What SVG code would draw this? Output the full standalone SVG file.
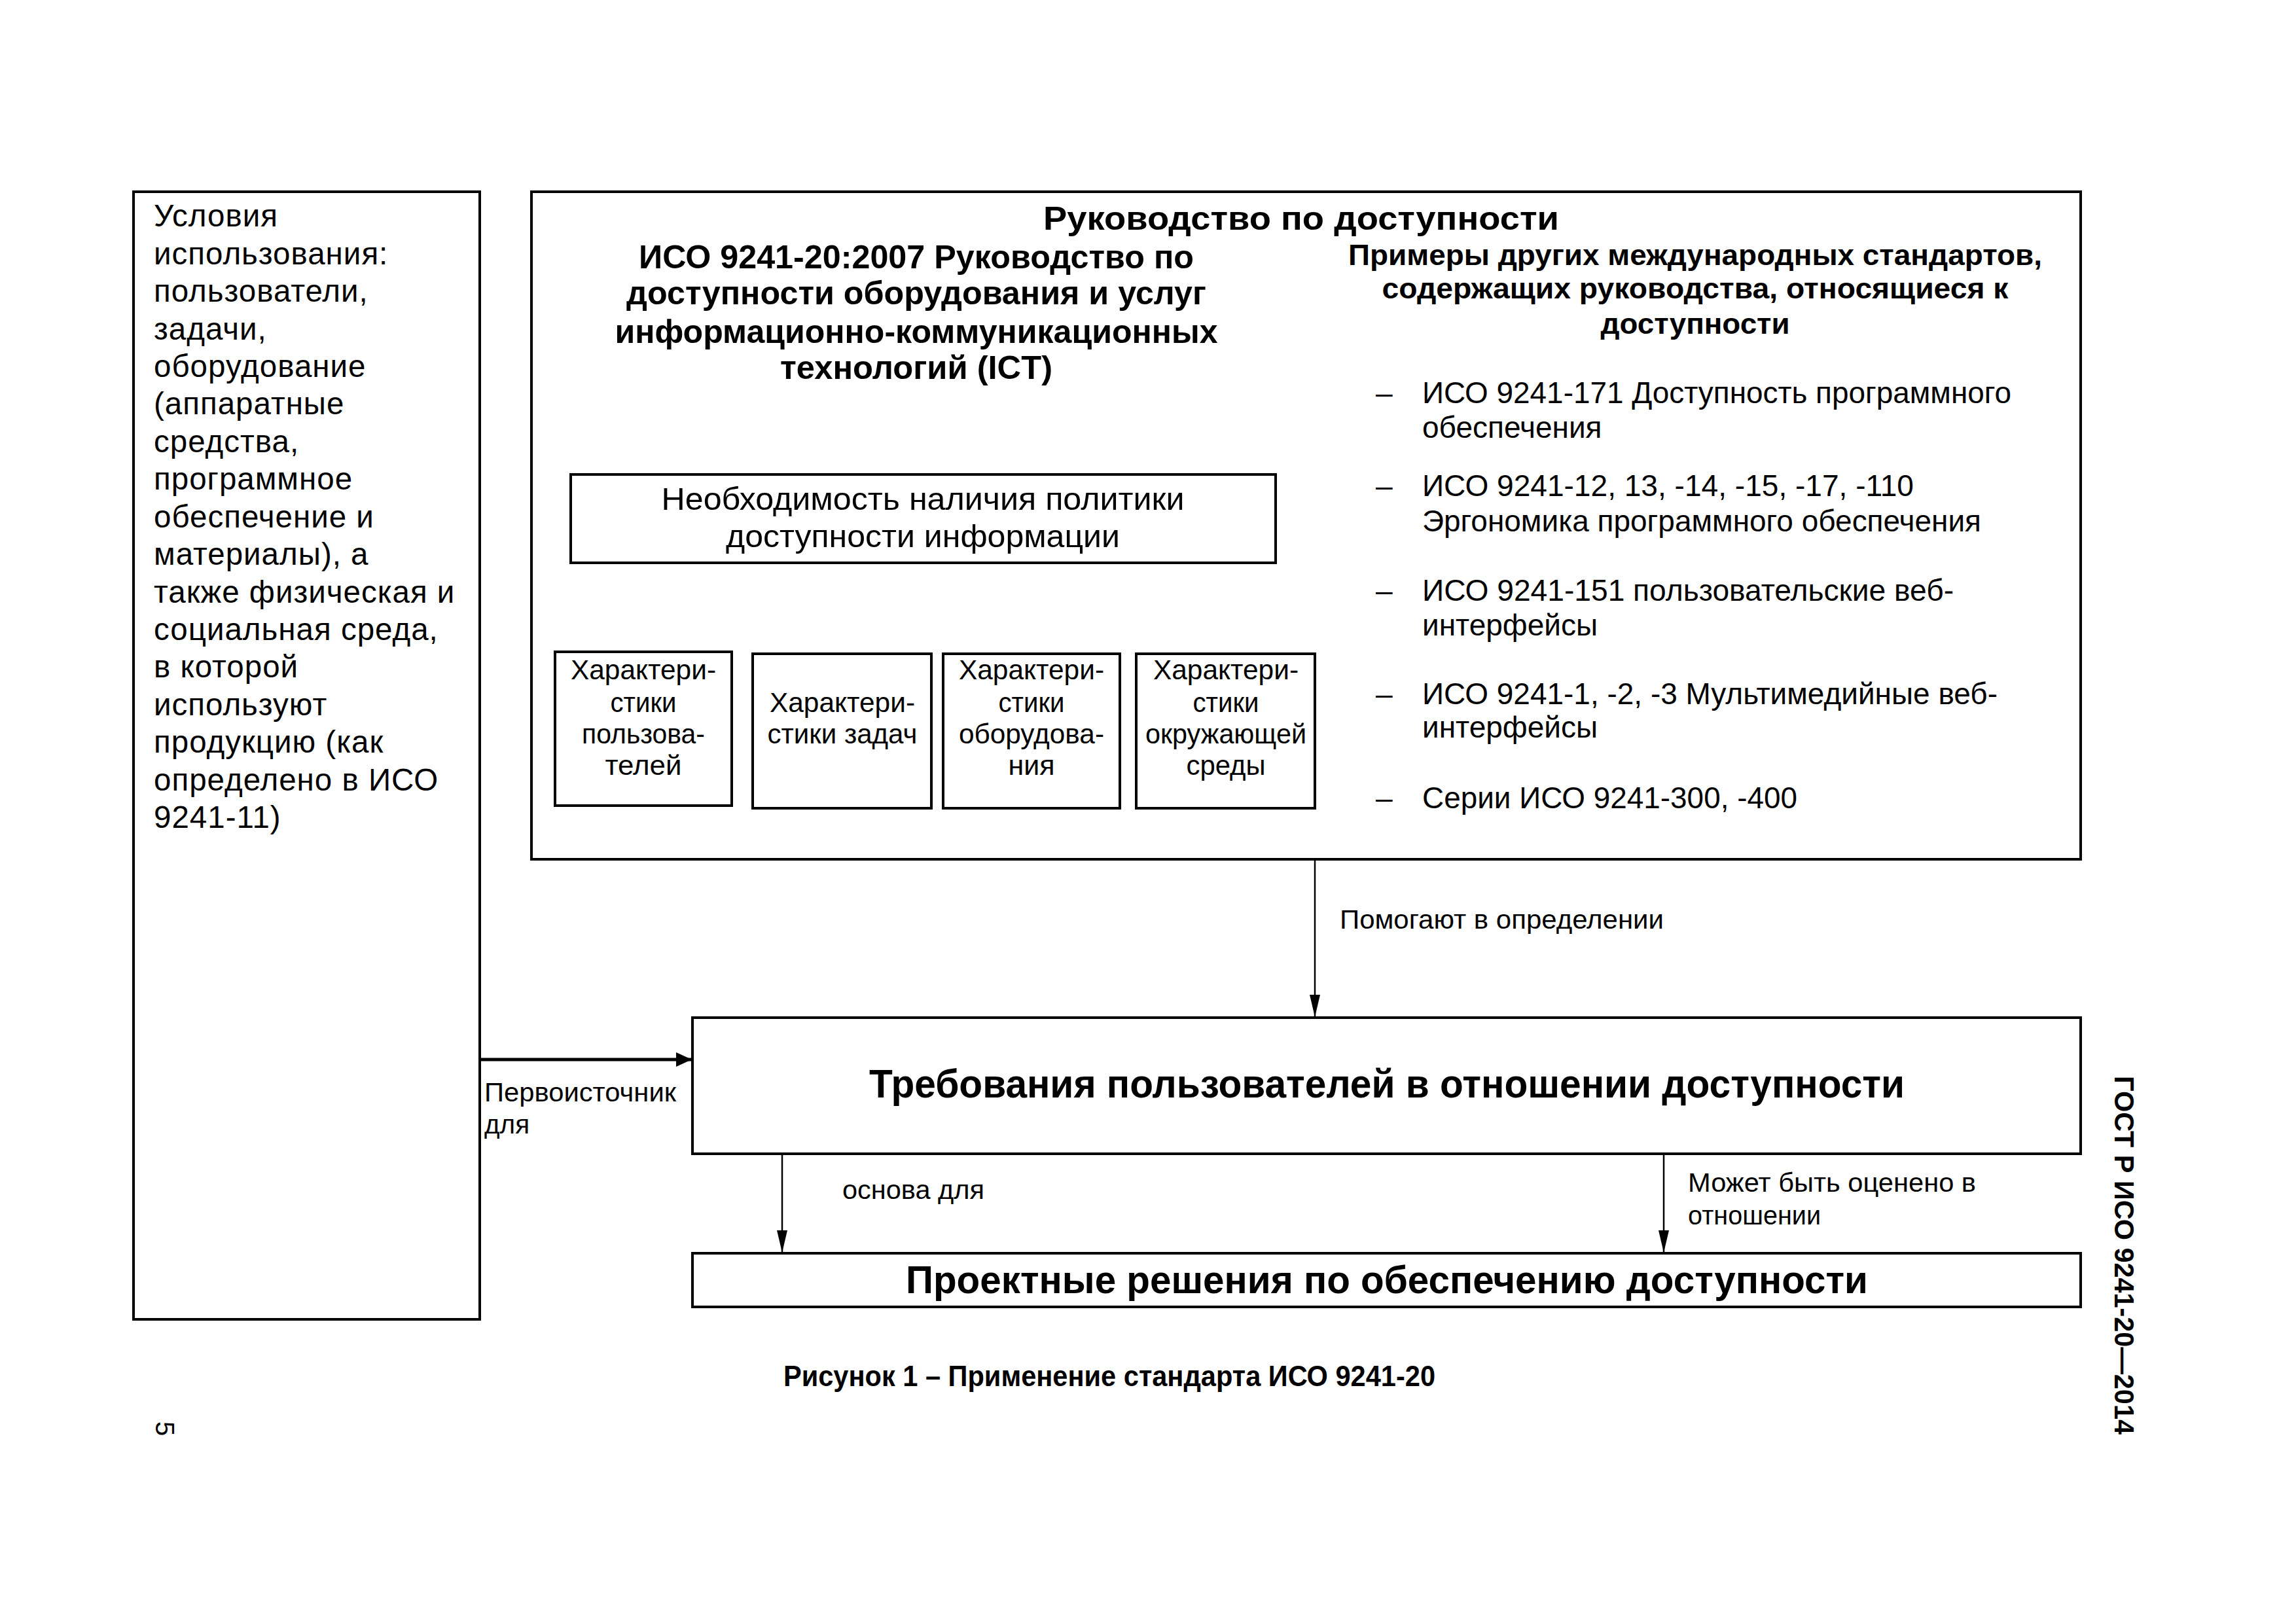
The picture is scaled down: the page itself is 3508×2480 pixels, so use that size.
<svg xmlns="http://www.w3.org/2000/svg" width="3508" height="2480" viewBox="0 0 3508 2480">
<style>
.box{fill:#fff;stroke:#000;stroke-width:4}
.t{font-family:"Liberation Sans",Arial,sans-serif;fill:#000}
.b{font-weight:bold}
.c{text-anchor:middle}
.con{stroke:#000;stroke-width:2.5;fill:none}
</style>
<defs>
<marker id="ah" markerUnits="userSpaceOnUse" markerWidth="34" markerHeight="16" viewBox="0 0 34 16" refX="33" refY="8" orient="auto">
<path d="M0,0 L34,8 L0,16 Z" fill="#000"/>
</marker>
<marker id="ahr" markerUnits="userSpaceOnUse" markerWidth="24" markerHeight="24" viewBox="0 0 24 24" refX="23" refY="12" orient="auto">
<path d="M0,1 L24,12 L0,23 Z" fill="#000"/>
</marker>
</defs>
<rect width="3508" height="2480" fill="#fff"/>

<g id="context">
<rect class="box" x="204" y="293" width="529" height="1723"/>
<text class="t" font-size="47.5" letter-spacing="1">
<tspan x="235" y="346">Условия</tspan>
<tspan x="235" y="404">использования:</tspan>
<tspan x="235" y="461">пользователи,</tspan>
<tspan x="235" y="519">задачи,</tspan>
<tspan x="235" y="576">оборудование</tspan>
<tspan x="235" y="633">(аппаратные</tspan>
<tspan x="235" y="691">средства,</tspan>
<tspan x="235" y="748">программное</tspan>
<tspan x="235" y="806">обеспечение и</tspan>
<tspan x="235" y="863">материалы), а</tspan>
<tspan x="235" y="921">также физическая и</tspan>
<tspan x="235" y="978">социальная среда,</tspan>
<tspan x="235" y="1035">в которой</tspan>
<tspan x="235" y="1093">используют</tspan>
<tspan x="235" y="1150">продукцию (как</tspan>
<tspan x="235" y="1208">определено в ИСО</tspan>
<tspan x="235" y="1265">9241-11)</tspan>
</text>
</g>

<g id="guidance">
<rect class="box" x="812" y="293" width="2367" height="1020"/>
<text class="t b c" font-size="50" x="1988" y="351" textLength="788" lengthAdjust="spacingAndGlyphs">Руководство по доступности</text>
<text class="t b c" font-size="50" x="1400" y="410" textLength="848" lengthAdjust="spacingAndGlyphs">ИСО 9241-20:2007 Руководство по</text>
<text class="t b c" font-size="50" x="1400" y="465" textLength="886" lengthAdjust="spacingAndGlyphs">доступности оборудования и услуг</text>
<text class="t b c" font-size="50" x="1400" y="524" textLength="921" lengthAdjust="spacingAndGlyphs">информационно-коммуникационных</text>
<text class="t b c" font-size="50" x="1400" y="579" textLength="416" lengthAdjust="spacingAndGlyphs">технологий (ICT)</text>
<text class="t b c" font-size="45" x="2590" y="405" textLength="1060" lengthAdjust="spacingAndGlyphs">Примеры других международных стандартов,</text>
<text class="t b c" font-size="45" x="2590" y="456" textLength="957" lengthAdjust="spacingAndGlyphs">содержащих руководства, относящиеся к</text>
<text class="t b c" font-size="45" x="2590" y="510" textLength="289" lengthAdjust="spacingAndGlyphs">доступности</text>
<g class="t" font-size="46">
<text x="2102" y="616">–</text>
<text x="2173" y="616" textLength="900" lengthAdjust="spacingAndGlyphs">ИСО 9241-171 Доступность программного</text>
<text x="2173" y="669">обеспечения</text>
<text x="2102" y="758">–</text>
<text x="2173" y="758" textLength="751" lengthAdjust="spacingAndGlyphs">ИСО 9241-12, 13, -14, -15, -17, -110</text>
<text x="2173" y="812" textLength="854" lengthAdjust="spacingAndGlyphs">Эргономика программного обеспечения</text>
<text x="2102" y="918">–</text>
<text x="2173" y="918" textLength="812" lengthAdjust="spacingAndGlyphs">ИСО 9241-151 пользовательские веб-</text>
<text x="2173" y="971">интерфейсы</text>
<text x="2102" y="1076">–</text>
<text x="2173" y="1076" textLength="879" lengthAdjust="spacingAndGlyphs">ИСО 9241-1, -2, -3 Мультимедийные веб-</text>
<text x="2173" y="1127">интерфейсы</text>
<text x="2102" y="1235">–</text>
<text x="2173" y="1235" textLength="573" lengthAdjust="spacingAndGlyphs">Серии ИСО 9241-300, -400</text>
</g>
</g>

<g id="policy">
<rect class="box" x="872" y="725" width="1077" height="135"/>
<text class="t c" font-size="48" x="1410" y="779" textLength="799" lengthAdjust="spacingAndGlyphs">Необходимость наличия политики</text>
<text class="t c" font-size="48" x="1410" y="836" textLength="602" lengthAdjust="spacingAndGlyphs">доступности информации</text>
</g>

<g id="users">
<rect class="box" x="848" y="996" width="270" height="235"/>
<g class="t c" font-size="42.5">
<text x="983" y="1038" textLength="222" lengthAdjust="spacingAndGlyphs">Характери-</text>
<text x="983" y="1088" textLength="101" lengthAdjust="spacingAndGlyphs">стики</text>
<text x="983" y="1136" textLength="188" lengthAdjust="spacingAndGlyphs">пользова-</text>
<text x="983" y="1184" textLength="117" lengthAdjust="spacingAndGlyphs">телей</text>
</g>
</g>
<g id="tasks">
<rect class="box" x="1150" y="999" width="273" height="236"/>
<g class="t c" font-size="42.5">
<text x="1287" y="1088" textLength="222" lengthAdjust="spacingAndGlyphs">Характери-</text>
<text x="1287" y="1136" textLength="229" lengthAdjust="spacingAndGlyphs">стики задач</text>
</g>
</g>
<g id="equipment">
<rect class="box" x="1441" y="999" width="270" height="236"/>
<g class="t c" font-size="42.5">
<text x="1576" y="1038" textLength="222" lengthAdjust="spacingAndGlyphs">Характери-</text>
<text x="1576" y="1088" textLength="101" lengthAdjust="spacingAndGlyphs">стики</text>
<text x="1576" y="1136" textLength="222" lengthAdjust="spacingAndGlyphs">оборудова-</text>
<text x="1576" y="1184" textLength="71" lengthAdjust="spacingAndGlyphs">ния</text>
</g>
</g>
<g id="environment">
<rect class="box" x="1736" y="999" width="273" height="236"/>
<g class="t c" font-size="42.5">
<text x="1873" y="1038" textLength="222" lengthAdjust="spacingAndGlyphs">Характери-</text>
<text x="1873" y="1088" textLength="101" lengthAdjust="spacingAndGlyphs">стики</text>
<text x="1873" y="1136" textLength="246" lengthAdjust="spacingAndGlyphs">окружающей</text>
<text x="1873" y="1184" textLength="121" lengthAdjust="spacingAndGlyphs">среды</text>
</g>
</g>

<g id="requirements">
<rect class="box" x="1058" y="1555" width="2121" height="208"/>
<text class="t b c" font-size="61" x="2119" y="1677" textLength="1582" lengthAdjust="spacingAndGlyphs">Требования пользователей в отношении доступности</text>
</g>

<g id="design">
<rect class="box" x="1058" y="1915" width="2121" height="82"/>
<text class="t b c" font-size="59" x="2119" y="1976" textLength="1470" lengthAdjust="spacingAndGlyphs">Проектные решения по обеспечению доступности</text>
</g>

<g id="connectors">
<line class="con" x1="2009" y1="1315" x2="2009" y2="1553" marker-end="url(#ah)"/>
<line x1="735" y1="1619" x2="1056" y2="1619" stroke="#000" stroke-width="5" marker-end="url(#ahr)"/>
<line class="con" x1="1195" y1="1765" x2="1195" y2="1913" marker-end="url(#ah)"/>
<line class="con" x1="2542" y1="1765" x2="2542" y2="1913" marker-end="url(#ah)"/>
<g class="t" font-size="40">
<text x="2047" y="1419" textLength="495" lengthAdjust="spacingAndGlyphs">Помогают в определении</text>
<text x="740" y="1683" textLength="293" lengthAdjust="spacingAndGlyphs">Первоисточник</text>
<text x="740" y="1732" textLength="69" lengthAdjust="spacingAndGlyphs">для</text>
<text x="1287" y="1832" textLength="217" lengthAdjust="spacingAndGlyphs">основа для</text>
<text x="2579" y="1821" textLength="440" lengthAdjust="spacingAndGlyphs">Может быть оценено в</text>
<text x="2579" y="1871" textLength="203" lengthAdjust="spacingAndGlyphs">отношении</text>
</g>
</g>

<text class="t b c" font-size="44" x="1695" y="2118" textLength="996" lengthAdjust="spacingAndGlyphs">Рисунок 1 – Применение стандарта ИСО 9241-20</text>
<text class="t b c" font-size="42" transform="translate(3231,1918) rotate(90)" x="0" y="0" textLength="548" lengthAdjust="spacingAndGlyphs">ГОСТ Р ИСО 9241-20—2014</text>
<text class="t c" font-size="40" transform="translate(238,2183) rotate(90)" x="0" y="0">5</text>
</svg>
